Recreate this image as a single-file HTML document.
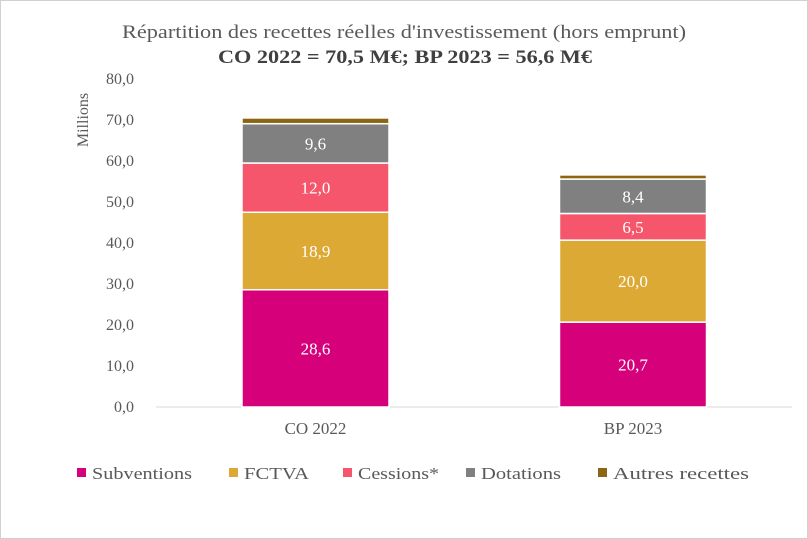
<!DOCTYPE html>
<html><head><meta charset="utf-8"><style>
html,body{margin:0;padding:0;background:#fff;}
svg{display:block;font-family:"Liberation Serif",serif;}
</style></head><body>
<svg id="c" width="808" height="539" xmlns="http://www.w3.org/2000/svg">
<rect x="0.5" y="0.5" width="807" height="538" fill="#fff" stroke="#d0d0d0"/>
<text x="122" y="38" textLength="564" lengthAdjust="spacingAndGlyphs" font-size="19" fill="#595959">Répartition des recettes réelles d'investissement (hors emprunt)</text>
<text x="218" y="63" textLength="374" lengthAdjust="spacingAndGlyphs" font-size="19" font-weight="bold" fill="#404040">CO 2022 = 70,5 M€; BP 2023 = 56,6 M€</text>
<text transform="translate(88,120) rotate(-90)" text-anchor="middle" font-size="16" fill="#595959">Millions</text>
<g id="axes"></g><g id="bars"></g><g id="legend"></g>
</svg>
<script>
const categories=["CO 2022","BP 2023"];
const seriesNames=["Subventions","FCTVA","Cessions*","Dotations","Autres recettes"];
const subventions=[28.6,20.7];
const fctva=[18.9,20.0];
const cessions=[12.0,6.5];
const dotations=[9.6,8.4];
const autres=[1.4,1.0];
const yTicks=[0,10,20,30,40,50,60,70,80];
const colors=["#D5007A","#DDA935","#F5566B","#808080","#8B6512"];
const NS="http://www.w3.org/2000/svg";
const y0=407,yTop=79,yMax=80;
const y=v=>y0-(v/yMax)*(y0-yTop);
const xCenters=[315.5,633];const bw=147;
function mk(t,a,p){const e=document.createElementNS(NS,t);for(const k in a)e.setAttribute(k,a[k]);p.appendChild(e);return e;}
const axes=document.getElementById('axes');
yTicks.forEach(t=>{
 const tx=mk('text',{x:134,y:y(t)+5,'text-anchor':'end','font-size':16,fill:'#595959'},axes);
 
 
 tx.textContent=t.toFixed(1).replace('.',',');
});
const base=mk('line',{x1:156,x2:792,y1:y0,y2:y0,stroke:'#d9d9d9'},axes);


const bars=document.getElementById('bars');
const series=[subventions,fctva,cessions,dotations,autres];
categories.forEach((c,i)=>{
 let acc=0;
 series.forEach((s,j)=>{
  const v=s[i];const top=y(acc+v),bot=y(acc);
  const r=mk('rect',{x:xCenters[i]-bw/2,y:top,width:bw,height:bot-top,fill:colors[j],stroke:'#fff','stroke-width':1.5},bars);
  
  
  if(j<4){
   const l=mk('text',{x:xCenters[i],y:(top+bot)/2+6,'text-anchor':'middle','font-size':17,fill:'#fff'},bars);
   
   
   l.textContent=v.toFixed(1).replace('.',',');
  }
  acc+=v;
 });
 const cl=mk('text',{x:xCenters[i],y:434,'text-anchor':'middle','font-size':17,fill:'#595959'},bars);
 
 
 cl.textContent=c;
});
const leg=document.getElementById('legend');
const lx=[77,229,343,466,598];
const lw=[100,65,81,80,136];
seriesNames.forEach((n,j)=>{
 const r=mk('rect',{x:lx[j],y:468,width:9,height:9,fill:colors[j]},leg);
 
 
 const t=mk('text',{x:lx[j]+15,y:479,'font-size':17,fill:'#595959',textLength:lw[j],lengthAdjust:'spacingAndGlyphs'},leg);
 
 
 t.textContent=n;
});
</script>
</body></html>
